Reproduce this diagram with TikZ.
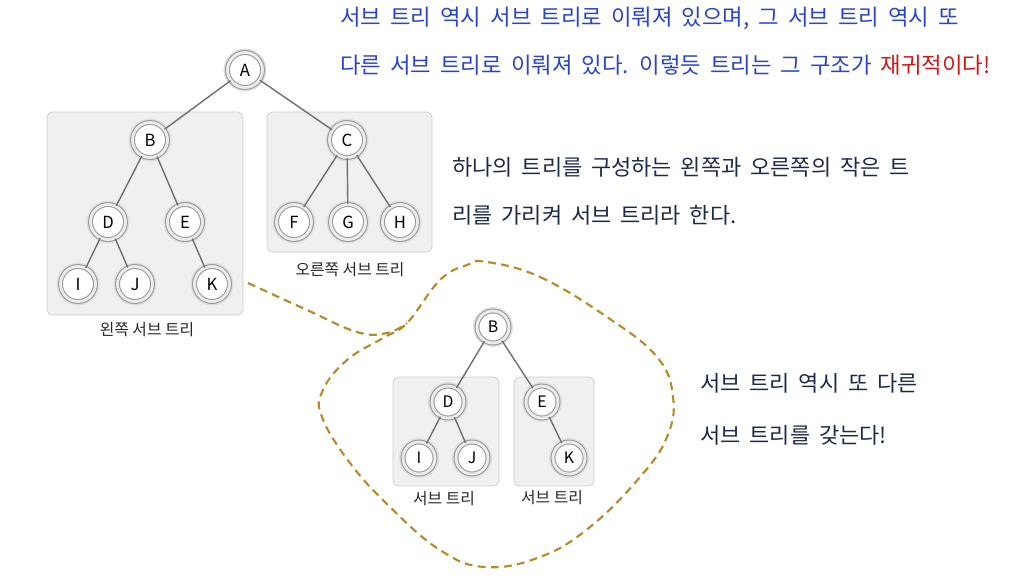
\documentclass[tikz,border=0pt]{standalone}
\usepackage{fontspec}
\setmainfont{Noto Sans CJK KR}
\newfontfamily\hand[WordSpace=3]{Noto Sans CJK KR}
\newfontfamily\wide[WordSpace=1.8]{Noto Sans CJK KR}
\definecolor{pen}{HTML}{2B45C8}
\definecolor{hot}{HTML}{D01818}
\definecolor{ink}{HTML}{1E2A4A}
\definecolor{wire}{HTML}{707070}
\definecolor{gold}{HTML}{B48A2A}
\tikzset{
  treenode/.style={circle, draw=gray!80, line width=0.6pt, double=gray!15, double distance=1.6pt,
    preaction={draw=gray!25, line width=4.5pt}, fill=white, minimum size=0.7cm, inner sep=0pt,
    font=\fontsize{9.5}{9.5}\selectfont},
  smallnode/.style={treenode, minimum size=0.64cm, font=\fontsize{9}{9}\selectfont},
  subbox/.style={draw=gray!40, fill=gray!12, rounded corners=3pt},
  boxlabel/.style={inner sep=0pt, text=black!85, font=\fontsize{9}{9}\selectfont},
  edge/.style={draw=wire, line width=0.8pt},
  note/.style={anchor=west, inner sep=0pt, text=ink, font=\wide\fontsize{12.5}{12.5}\selectfont},
  handnote/.style={anchor=west, inner sep=0pt, text=pen, font=\hand\fontsize{12.7}{12.7}\selectfont},
  blob/.style={draw=gold, line width=1.2pt, dash pattern=on 4.5pt off 3pt}
}
\begin{document}
\begin{tikzpicture}[x=0.02cm, y=-0.02cm]
\useasboundingbox (0,0) rectangle (1016,582);

% First tree with its two sub trees
\draw[subbox] (47,112) rectangle (243,315);
\draw[subbox] (267,112) rectangle (432,252);
\node[boxlabel] (left) at (147,330) {왼쪽 서브 트리};
\node[boxlabel] (right) at (350,270) {오른쪽 서브 트리};

\node[treenode] (a1) at (245,70) {A};
\node[treenode] (b1) at (150,140) {B};
\node[treenode] (c1) at (347,140) {C};
\node[treenode] (d1) at (108,222) {D};
\node[treenode] (e1) at (185,222) {E};
\node[treenode] (f1) at (294,222) {F};
\node[treenode] (g1) at (348,222) {G};
\node[treenode] (h1) at (400,222) {H};
\node[treenode] (i1) at (78,284) {I};
\node[treenode] (j1) at (135,284) {J};
\node[treenode] (k1) at (212,284) {K};
\draw[edge] (a1) -- (b1);
\draw[edge] (a1) -- (c1);
\draw[edge] (b1) -- (d1);
\draw[edge] (b1) -- (e1);
\draw[edge] (d1) -- (i1);
\draw[edge] (d1) -- (j1);
\draw[edge] (e1) -- (k1);
\draw[edge] (c1) -- (f1);
\draw[edge] (c1) -- (g1);
\draw[edge] (c1) -- (h1);

% Second tree (sub tree B)
\draw[blob] plot[smooth cycle, tension=0.7] coordinates {(487,262) (540,277) (607,317) (657,357)
  (673,397) (667,437) (640,477) (590,527) (540,557) (485,567) (440,550) (390,507) (350,463)
  (322,417) (323,390) (347,360) (383,338) (407,323) (440,280) (467,265)};
\draw[blob] plot[smooth, tension=0.7] coordinates {(248,283) (307,310) (357,332) (387,333) (407,323)};

\draw[subbox] (393,377) rectangle (499,486);
\draw[subbox] (514,377) rectangle (594,486);
\node[boxlabel] (sub1) at (444,499) {서브 트리};
\node[boxlabel] (sub2) at (552,498) {서브 트리};

\node[smallnode] (b2) at (493,327) {B};
\node[smallnode] (d2) at (448,402) {D};
\node[smallnode] (e2) at (542,402) {E};
\node[smallnode] (i2) at (419,458) {I};
\node[smallnode] (j2) at (472,458) {J};
\node[smallnode] (k2) at (569,458) {K};
\draw[edge] (b2) -- (d2);
\draw[edge] (b2) -- (e2);
\draw[edge] (d2) -- (i2);
\draw[edge] (d2) -- (j2);
\draw[edge] (e2) -- (k2);

% Notes
\node[handnote] (top1) at (340,18) {서브 트리 역시 서브 트리로 이뤄져 있으며, 그 서브 트리 역시 또};
\node[handnote] (top2) at (340,65) {다른 서브 트리로 이뤄져 있다. 이렇듯 트리는 그 구조가 \textcolor{hot}{재귀적이다!}};
\node[note] (mid1) at (452,167) {하나의 트리를 구성하는 왼쪽과 오른쪽의 작은 트};
\node[note] (mid2) at (452,215) {리를 가리켜 서브 트리라 한다.};
\node[note] (low1) at (700,383) {서브 트리 역시 또 다른};
\node[note] (low2) at (700,435) {서브 트리를 갖는다!};
\end{tikzpicture}
\end{document}
